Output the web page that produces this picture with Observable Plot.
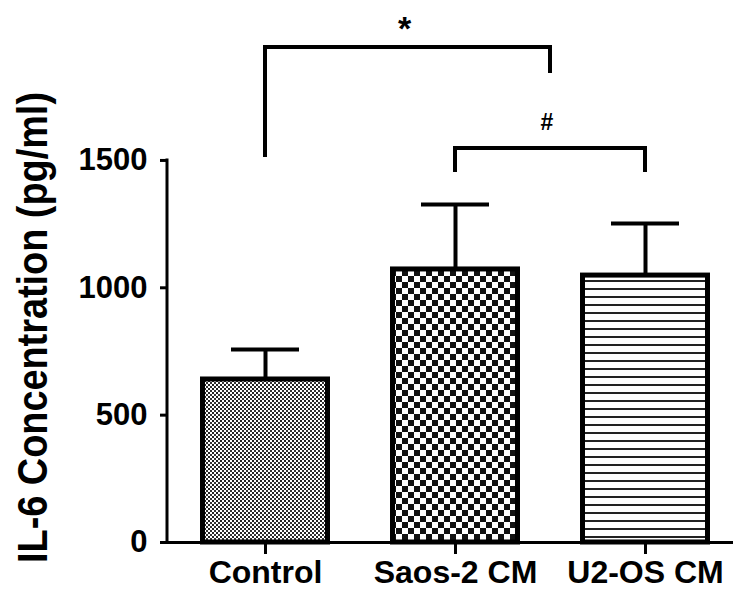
<!DOCTYPE html>
<html><head><meta charset="utf-8">
<script src="https://cdn.jsdelivr.net/npm/d3@7"></script>
<script src="https://cdn.jsdelivr.net/npm/@observablehq/plot@0.6"></script>
<style>html,body{margin:0;padding:0;background:#fff;color:#000;overflow:hidden}</style>
</head><body><div id="chart"></div>
<script>
// ---- data ----
const categories = ["Control", "Saos-2 CM", "U2-OS CM"];
const means = [640, 1072, 1048];
const sds = [118, 255, 204];
const yTicks = [0, 500, 1000, 1500];
const yLabel = "IL-6 Concentration (pg/ml)";
// significance brackets (positions in category index units, heights in pg/ml)
const bracketStart = [0, 1];
const bracketEnd = [1.5, 2];
const bracketTop = [1943, 1547];
const bracketLegStart = [1512, 1453];
const bracketLegEnd = [1841, 1453];
const bracketLabels = ["*", "#"];
const bracketLabelY = [1970, 1616];
const bracketLabelSize = [34, 23];

const patternIds = ["pat-dots", "pat-checker", "pat-lines"];
const data = categories.map((c, i) => ({category: c, mean: means[i], top: means[i] + sds[i]}));

function patternDefs() {
  const defs = d3.create("svg:defs");
  const p0 = defs.append("pattern").attr("id", "pat-dots").attr("patternUnits", "userSpaceOnUse").attr("width", 4).attr("height", 4);
  p0.append("rect").attr("width", 4).attr("height", 4).attr("fill", "#fff");
  p0.append("rect").attr("width", 2).attr("height", 2).attr("fill", "#222");
  p0.append("rect").attr("x", 2).attr("y", 2).attr("width", 2).attr("height", 2).attr("fill", "#333");
  const p1 = defs.append("pattern").attr("id", "pat-checker").attr("patternUnits", "userSpaceOnUse").attr("width", 12).attr("height", 12);
  p1.append("rect").attr("width", 12).attr("height", 12).attr("fill", "#fff");
  p1.append("rect").attr("width", 6).attr("height", 6).attr("fill", "#111");
  p1.append("rect").attr("x", 6).attr("y", 6).attr("width", 6).attr("height", 6).attr("fill", "#111");
  const p2 = defs.append("pattern").attr("id", "pat-lines").attr("patternUnits", "userSpaceOnUse").attr("width", 8).attr("height", 8);
  p2.append("rect").attr("width", 8).attr("height", 8).attr("fill", "#fff");
  p2.append("rect").attr("width", 8).attr("height", 2).attr("fill", "#222");
  return defs.node();
}

function yAxisLine(index, scales, values, dimensions) {
  const y = scales.y, x0 = dimensions.marginLeft;
  const g = d3.create("svg:g");
  g.append("line").attr("x1", x0).attr("x2", x0).attr("y1", y(0) + 1.5).attr("y2", y(yTicks[yTicks.length - 1]) - 1.5)
    .attr("stroke", "black").attr("stroke-width", 3);
  return g.node();
}

function brackets(index, scales, values, dimensions) {
  const x = scales.x, y = scales.y;
  const bw = x.bandwidth(), step = x.step();
  const pos = p => x(categories[0]) + bw / 2 + p * step;
  const g = d3.create("svg:g");
  bracketStart.forEach((s, i) => {
    const x1 = pos(s), x2 = pos(bracketEnd[i]);
    g.append("path")
      .attr("d", `M${x1},${y(bracketLegStart[i])}V${y(bracketTop[i])}H${x2}V${y(bracketLegEnd[i])}`)
      .attr("fill", "none").attr("stroke", "black").attr("stroke-width", 4);
    g.append("text")
      .attr("x", (x1 + x2) / 2 - 3).attr("y", y(bracketLabelY[i]))
      .attr("text-anchor", "middle").attr("font-size", bracketLabelSize[i]).attr("font-weight", "bold")
      .attr("fill", "black").text(bracketLabels[i]);
  });
  return g.node();
}

function yTitle(index, scales, values, dimensions) {
  const g = d3.create("svg:g");
  g.append("text")
    .attr("transform", `translate(47,${(92 + 563) / 2}) rotate(-90)`)
    .attr("text-anchor", "middle").attr("font-size", 43).attr("font-weight", "bold")
    .attr("textLength", 471).attr("lengthAdjust", "spacingAndGlyphs")
    .attr("fill", "black").text(yLabel);
  return g.node();
}

const chart = Plot.plot({
  width: 733,
  height: 602,
  marginLeft: 167,
  marginRight: 0,
  marginTop: 0,
  marginBottom: 60,
  style: {fontFamily: "'Liberation Sans', Arial, sans-serif", fontWeight: "bold", background: "#fff", color: "#000"},
  x: {domain: categories, paddingInner: 0.314, paddingOuter: 0.139, align: 0.585, label: null},
  y: {domain: [0, 2128], label: null},
  color: {domain: categories, range: patternIds.map(id => `url(#${id})`)},
  marks: [
    patternDefs,
    Plot.ruleX(data, {x: "category", y1: "mean", y2: "top", strokeWidth: 4, stroke: "black"}),
    Plot.tickY(data, {x: "category", y: "top", strokeWidth: 4, stroke: "black", insetLeft: 31, insetRight: 31}),
    Plot.barY(data, {x: "category", y: "mean", fill: "category", stroke: "black", strokeWidth: 5, insetLeft: 2.5, insetRight: 2.5}),
    Plot.ruleY([0], {strokeWidth: 3, stroke: "black"}),
    yAxisLine,
    Plot.axisY({ticks: yTicks, tickSize: 7, tickPadding: 13, strokeWidth: 3, fontSize: 31, tickFormat: d => String(d)}),
    Plot.axisX({tickSize: 12, tickPadding: 6, strokeWidth: 3, fontSize: 32}),
    brackets,
    yTitle
  ]
});
document.getElementById("chart").appendChild(chart);
</script>
</body></html>
